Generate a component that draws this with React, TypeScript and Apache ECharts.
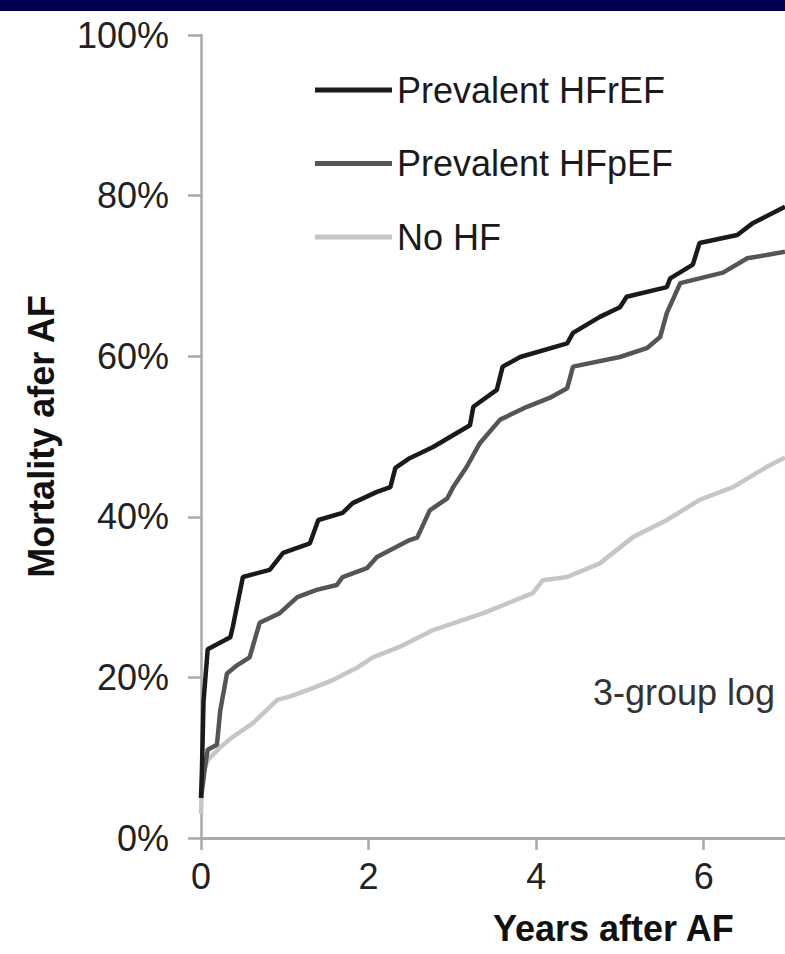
import React, { useEffect, useRef } from "react";
import * as echarts from "echarts";

const FONT = "'Liberation Sans', Arial, Helvetica, sans-serif";

const seriesNames = ["Prevalent HFrEF", "Prevalent HFpEF", "No HF"];

const hfrefYears = [0, 0.01, 0.03, 0.08, 0.35, 0.38, 0.5, 0.82, 0.98, 1.3, 1.4, 1.69, 1.81, 2.1, 2.26, 2.32, 2.49, 2.77, 3.21, 3.25, 3.53, 3.6, 3.81, 4.37, 4.44, 4.76, 5.0, 5.08, 5.56, 5.6, 5.87, 5.95, 6.4, 6.59, 6.97];
const hfrefMortality = [5, 8, 17, 23.5, 25.0, 26.3, 32.5, 33.4, 35.5, 36.7, 39.6, 40.5, 41.7, 43.1, 43.7, 46.1, 47.3, 48.7, 51.4, 53.7, 55.8, 58.7, 59.9, 61.6, 62.9, 64.9, 66.1, 67.4, 68.6, 69.7, 71.4, 74.1, 75.1, 76.6, 78.6];

const hfpefYears = [0, 0.05, 0.08, 0.19, 0.23, 0.31, 0.43, 0.58, 0.7, 0.94, 1.15, 1.38, 1.62, 1.69, 1.98, 2.1, 2.49, 2.58, 2.73, 2.94, 3.01, 3.17, 3.33, 3.57, 3.89, 4.16, 4.37, 4.44, 5.0, 5.32, 5.48, 5.56, 5.72, 6.23, 6.52, 6.75, 6.97];
const hfpefMortality = [5, 9, 11.0, 11.6, 15.9, 20.5, 21.5, 22.5, 26.8, 28.0, 30.0, 30.9, 31.5, 32.5, 33.6, 35.0, 37.1, 37.4, 40.8, 42.3, 43.7, 46.2, 49.2, 52.1, 53.7, 54.8, 56.0, 58.7, 59.9, 61.0, 62.4, 65.4, 69.1, 70.4, 72.2, 72.6, 73.0];

const noHfYears = [0, 0.01, 0.04, 0.08, 0.23, 0.38, 0.62, 0.91, 1.06, 1.34, 1.58, 1.86, 2.05, 2.37, 2.77, 3.37, 3.96, 4.08, 4.37, 4.76, 5.16, 5.56, 5.95, 6.35, 6.75, 6.97];
const noHfMortality = [3, 6, 8.5, 9.7, 11.3, 12.6, 14.3, 17.2, 17.6, 18.7, 19.7, 21.2, 22.5, 23.8, 25.9, 28.0, 30.5, 32.1, 32.5, 34.2, 37.5, 39.6, 42.1, 43.7, 46.2, 47.4];

const xTickStep = 2;
const yTickStep = 20;
const annotation = "3-group log rank p<0.001";

const pairs = (xs: number[], ys: number[]) => xs.map((x, i) => [x, ys[i]]);

export default function App() {
  const ref = useRef<HTMLDivElement>(null);
  useEffect(() => {
    if (!ref.current) return;
    const chart = echarts.init(ref.current, undefined, { renderer: "svg" });
    const axisColor = "#a9a9a9";
    const option = {
      animation: false,
      backgroundColor: "#ffffff",
      grid: { left: 201, right: 0, top: 35, bottom: 116 },
      legend: {
        orient: "vertical",
        left: 310,
        top: 65,
        itemWidth: 77,
        itemHeight: 5,
        itemGap: 33.5,
        icon: "rect",
        selectedMode: false,
        data: seriesNames,
        textStyle: { fontSize: 36, color: "#1a1a1a", fontFamily: FONT, lineHeight: 40 },
      },
      xAxis: {
        type: "value",
        min: 0,
        max: 6.97,
        interval: xTickStep,
        axisLine: { show: true, lineStyle: { color: axisColor, width: 3 } },
        axisTick: { show: true, length: 12, lineStyle: { color: axisColor, width: 2.5 } },
        axisLabel: { fontSize: 36, color: "#222", fontFamily: FONT, margin: 20, showMaxLabel: false },
        splitLine: { show: false },
        name: "Years after AF",
        nameLocation: "middle",
        nameGap: 72,
        nameTextStyle: { fontSize: 36, fontWeight: "bold", color: "#111", fontFamily: FONT, align: "left" },
      },
      yAxis: {
        type: "value",
        min: 0,
        max: 100,
        interval: yTickStep,
        axisLine: { show: true, lineStyle: { color: axisColor, width: 2.5 } },
        axisTick: { show: true, length: 13, lineStyle: { color: axisColor, width: 2.5 } },
        axisLabel: { fontSize: 36, color: "#222", fontFamily: FONT, margin: 32, formatter: "{value}%" },
        splitLine: { show: false },
        name: "Mortality afer AF",
        nameLocation: "middle",
        nameGap: 142,
        nameTextStyle: { fontSize: 36, fontWeight: "bold", color: "#111", fontFamily: FONT },
      },
      graphic: [
        { type: "rect", left: 0, top: 0, shape: { width: 785, height: 11 }, style: { fill: "#00004e" }, z: 100 },
        {
          type: "text",
          left: 593,
          top: 674,
          style: { text: annotation, fontSize: 36, fontFamily: FONT, fill: "#333" },
        },
      ],
      series: [
        {
          name: seriesNames[2],
          type: "line",
          data: pairs(noHfYears, noHfMortality),
          showSymbol: false,
          symbol: "none",
          color: "#c6c6c6",
          lineStyle: { color: "#c6c6c6", width: 4.5 },
          z: 2,
        },
        {
          name: seriesNames[1],
          type: "line",
          data: pairs(hfpefYears, hfpefMortality),
          showSymbol: false,
          symbol: "none",
          color: "#555555",
          lineStyle: { color: "#555555", width: 4.5 },
          z: 3,
        },
        {
          name: seriesNames[0],
          type: "line",
          data: pairs(hfrefYears, hfrefMortality),
          showSymbol: false,
          symbol: "none",
          color: "#1a1a1a",
          lineStyle: { color: "#1a1a1a", width: 4.5 },
          z: 4,
        },
      ],
    };
    chart.setOption(option as any);
    return () => chart.dispose();
  }, []);
  return (
    <div style={{ position: "fixed", left: 0, top: 0, width: 785, height: 954, overflow: "hidden", background: "#fff" }}>
      <div ref={ref} style={{ width: 785, height: 954 }} />
    </div>
  );
}
